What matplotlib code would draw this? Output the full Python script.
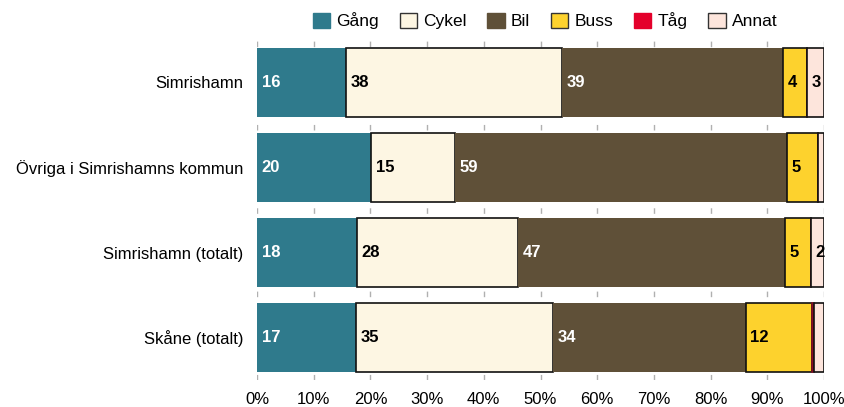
import matplotlib
matplotlib.use("Agg")
import matplotlib.pyplot as plt
import numpy as np

plt.rcParams['font.family'] = ['Liberation Sans', 'DejaVu Sans']

categories = ["Simrishamn", "Övriga i Simrishamns kommun", "Simrishamn (totalt)", "Skåne (totalt)"]
series_names = ["Gång", "Cykel", "Bil", "Buss", "Tåg", "Annat"]
gang = [15.7, 20.1, 17.6, 17.4]
cykel = [38.1, 14.8, 28.4, 34.8]
bil = [39.0, 58.6, 47.1, 34.0]
buss = [4.2, 5.4, 4.6, 11.6]
tag = [0.0, 0.0, 0.0, 0.4]
annat = [3.0, 1.1, 2.3, 1.8]
xticklabels = ["0%", "10%", "20%", "30%", "40%", "50%", "60%", "70%", "80%", "90%", "100%"]

series = [gang, cykel, bil, buss, tag, annat]
colors = ["#2f7a8c", "#fdf6e3", "#5f5038", "#fdd22d", "#e4002b", "#fde5dc"]
edges = ["none", "#111111", "none", "#111111", "#7a1020", "#111111"]
label_colors = ["white", "black", "white", "black", None, "black"]

fig = plt.figure(figsize=(8.45, 4.07), dpi=100)
ax = fig.add_axes([257/845, 1-380/407, (824-257)/845, (380-40)/407])

y = np.arange(len(categories))
left = np.zeros(len(categories))
handles = []
for name, vals, c, ec, lc in zip(series_names, series, colors, edges, label_colors):
    vals = np.array(vals)
    h = ax.barh(y, vals, left=left, height=0.81, color=c,
                edgecolor=ec, linewidth=1.2 if ec != "none" else 0, zorder=3, label=name)
    handles.append(h)
    if lc is not None:
        for yi, (l, v) in enumerate(zip(left, vals)):
            if v >= 2:
                ax.text(l + 0.8, yi, f"{round(v):d}", color=lc, fontsize=12,
                        fontweight='bold', va='center', ha='left', zorder=4,
                        clip_on=False)
    left += vals

ax.set_xlim(0, 100)
ax.set_ylim(len(categories) - 0.5, -0.5)
ax.set_yticks(y)
ax.set_yticklabels(categories, fontsize=12)
ax.set_xticks(np.arange(0, 101, 10))
ax.set_xticklabels(xticklabels, fontsize=12)
ax.tick_params(axis='y', length=0, pad=10)
ax.tick_params(axis='x', length=0, pad=9)
for s in ax.spines.values():
    s.set_visible(False)
ax.grid(axis='x', color='#b0b0b0', linestyle=(0, (4, 8)), linewidth=1, zorder=0)

leg = fig.legend(handles=[plt.Rectangle((0, 0), 1, 1, facecolor=c, edgecolor=('#333333' if e != 'none' and i != 4 else c), linewidth=1)
                          for i, (c, e) in enumerate(zip(colors, edges))],
                 labels=series_names, loc='center', bbox_to_anchor=(545/845, 1-21/407),
                 ncol=6, frameon=False, fontsize=12.5, handlelength=1.0, handleheight=1.0,
                 handletextpad=0.35, columnspacing=1.2)

fig.savefig("out.png", dpi=100)
